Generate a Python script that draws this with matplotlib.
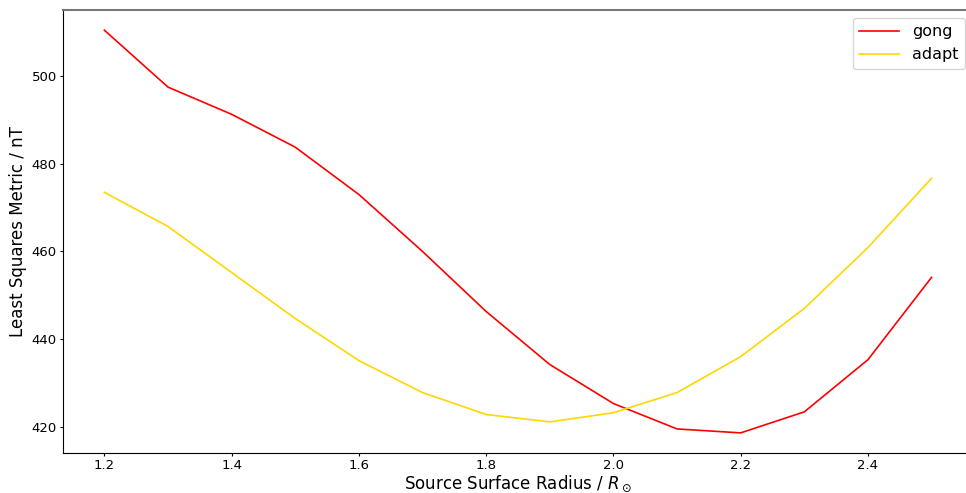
import matplotlib.pyplot as plt

radius = [1.2, 1.3, 1.4, 1.5, 1.6, 1.7, 1.8, 1.9, 2.0, 2.1, 2.2, 2.3, 2.4, 2.5]
gong = [510.5, 497.5, 491.3, 483.8, 473.0, 460.0, 446.3, 434.2, 425.3, 419.5, 418.6, 423.4, 435.3, 454.1]
adapt = [473.5, 465.7, 455.2, 444.7, 435.1, 427.8, 422.8, 421.1, 423.2, 427.8, 436.0, 447.0, 460.9, 476.7]

fig = plt.figure(figsize=(9.66, 4.93), dpi=100)
ax = fig.add_axes([0.0652, 0.0811, 0.942, 0.8986])
ax.plot(radius, gong, color="red", lw=1.2, label="gong")
ax.plot(radius, adapt, color="gold", lw=1.2, label="adapt")
ax.set_xlabel(r"Source Surface Radius / $R_\odot$", fontsize=12, labelpad=1)
ax.set_ylabel("Least Squares Metric / nT", fontsize=12, labelpad=3)
ax.tick_params(labelsize=9.5, length=2.5, pad=2)
ax.spines["right"].set_visible(False)
ax.spines["top"].set_color("#777777")
ax.spines["top"].set_linewidth(1.5)
ax.legend(fontsize=11.5, loc="upper right", bbox_to_anchor=(1.0, 1.0),
          handlelength=2.5)
fig.savefig("out.png", dpi=100)
